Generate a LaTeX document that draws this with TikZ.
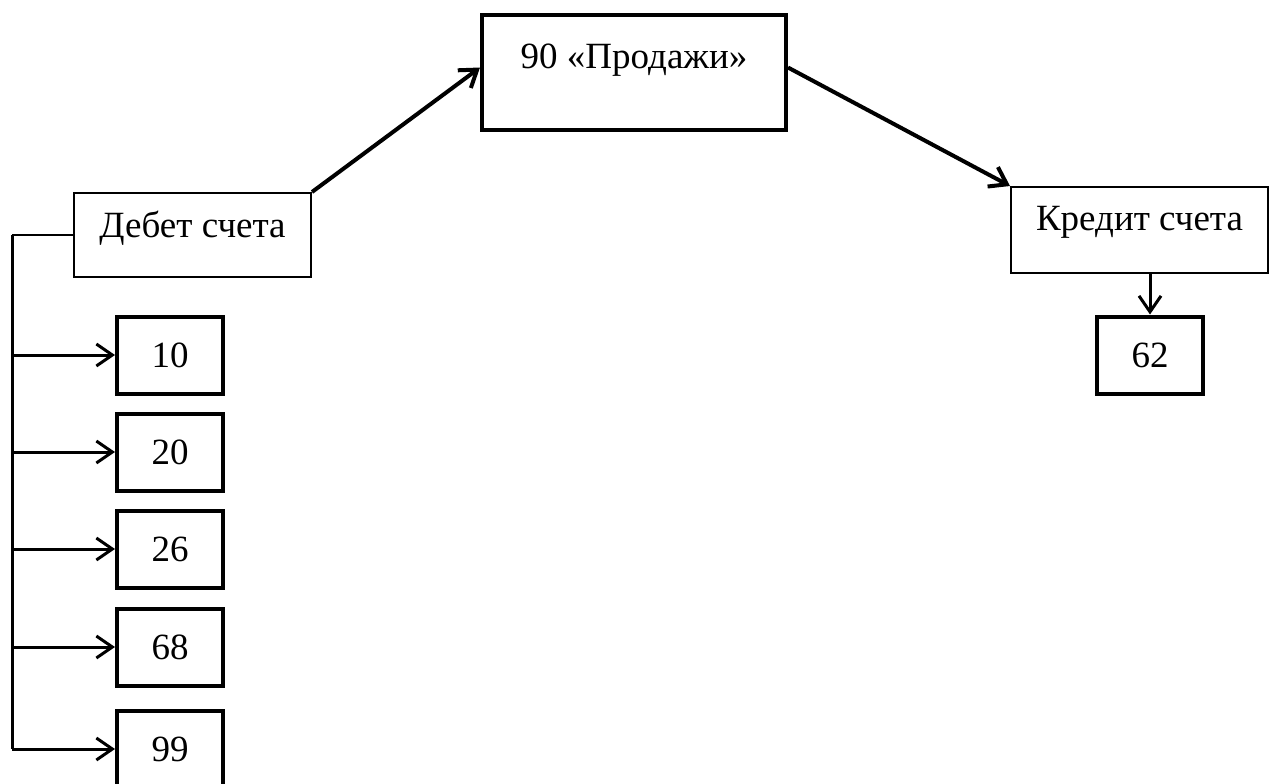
\documentclass[tikz,border=0pt]{standalone}
\usepackage{fontspec}
\setmainfont{Liberation Serif}
\usetikzlibrary{arrows.meta,calc}
\begin{document}
\begin{tikzpicture}[x=0.5pt,y=-0.5pt,
  thinbox/.style={draw,line width=1pt,rectangle,inner sep=0pt},
  thickbox/.style={draw,line width=2pt,rectangle,inner sep=0pt,minimum width=53pt,minimum height=38.5pt,font=\fontsize{18.5}{22}\selectfont},
  lbl/.style={inner sep=0pt,font=\fontsize{18.5}{22}\selectfont},
  barb/.style={-{Straight Barb[length=8pt,width=11pt,line width=1.5pt]}},
  diag/.style={line width=2pt,-{Straight Barb[length=8pt,width=11pt,line width=2pt]}},
  side/.style={line width=1.5pt,barb}]
\useasboundingbox (0,0) rectangle (1269,783);
% main boxes
\node[draw,line width=2pt,inner sep=0pt,minimum width=152pt,minimum height=57.5pt] (p) at (634,72.5) {};
\node[lbl] (pt) at (634,60) {90 «Продажи»};
\node[thinbox,minimum width=118.5pt,minimum height=42pt] (deb) at (192.5,235) {};
\node[lbl] (debt) at (192.5,228) {Дебет счета};
\node[thinbox,minimum width=128.5pt,minimum height=43pt] (kr) at (1139.5,230) {};
\node[lbl] (krt) at (1139.5,222) {Кредит счета};
\node[thickbox] (b62) at (1150,355) {62};
% debit sub-boxes
\node[thickbox] (b10) at (170,355) {10};
\node[thickbox] (b20) at (170,452) {20};
\node[thickbox] (b26) at (170,549) {26};
\node[thickbox] (b68) at (170,647) {68};
\node[thickbox] (b99) at (170,749) {99};
% connectors
\draw[diag] (deb.north east) -- ([yshift=2.5pt]p.west);
\draw[diag] ([yshift=2.5pt]p.east) -- (kr.north west);
\draw[side] (b62.north |- kr.south) -- (b62.north);
\coordinate (L) at (12,235);
\draw[line width=1pt] (deb.west) -- (L);
\draw[line width=1.5pt] (L) -- (L |- b99.west);
\foreach \b in {b10,b20,b26,b68,b99}{
  \draw[side] (L |- \b.west) -- (\b.west);
}
\end{tikzpicture}
\end{document}
